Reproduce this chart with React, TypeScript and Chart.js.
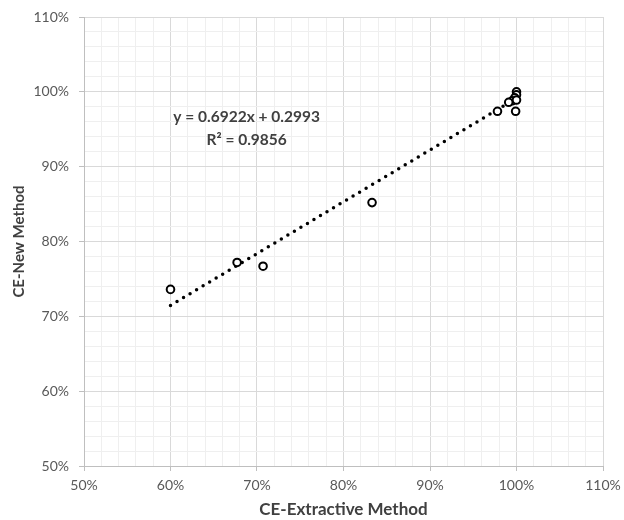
import React, { useEffect, useRef } from "react";
import { Chart, registerables } from "chart.js";

Chart.register(...registerables);

const xValues = [0.60, 0.677, 0.707, 0.833, 0.978, 0.999, 1.0, 1.0, 0.998, 0.995, 0.991, 1.0];
const yValues = [0.736, 0.772, 0.767, 0.852, 0.974, 0.974, 1.0, 0.996, 0.992, 0.988, 0.986, 0.989];
const trendSlope = 0.6922;
const trendIntercept = 0.2993;
const trendRange = [0.6, 1.0];
const equationLines = ["y = 0.6922x + 0.2993", "R² = 0.9856"];
const axisMin = 0.5;
const axisMax = 1.1;

const FONT = "Lato, 'Open Sans', sans-serif";

export default function App() {
  const ref = useRef<HTMLCanvasElement | null>(null);

  useEffect(() => {
    if (!ref.current) return;
    const points = xValues.map((x, i) => ({ x, y: yValues[i] }));
    const trend = trendRange.map((x) => ({ x, y: trendSlope * x + trendIntercept }));

    const isMajor = (v: number) => Math.abs(Math.round(v * 10) - v * 10) < 1e-6;

    const gridColor = (ctx: any) => (isMajor(ctx.tick.value) ? "#d9d9d9" : "#efefef");

    const textPlugin = {
      id: "eqText",
      afterDatasetsDraw(chart: any) {
        const c = chart.ctx;
        const xs = chart.scales.x;
        const ys = chart.scales.y;
        c.save();
        c.fillStyle = "#404040";
        c.font = `bold 15.5px ${FONT}`;
        c.textAlign = "center";
        c.textBaseline = "middle";
        const cx = xs.getPixelForValue(0.688);
        c.fillText(equationLines[0], cx, ys.getPixelForValue(0.9665));
        c.fillText(equationLines[1], cx, ys.getPixelForValue(0.9358));
        c.restore();
      },
    };

    const tickCb = (v: any) => {
      const n = Number(v);
      return isMajor(n) ? Math.round(n * 100) + "%" : "";
    };

    const chart = new Chart(ref.current, {
      type: "scatter",
      data: {
        datasets: [
          {
            type: "line",
            data: trend,
            borderColor: "#000",
            borderWidth: 3.5,
            borderDash: [0, 7.6],
            borderCapStyle: "round",
            pointRadius: 0,
            fill: false,
            order: 2,
          } as any,
          {
            data: points,
            pointStyle: "circle",
            pointRadius: 3.8,
            pointBorderWidth: 2,
            pointBackgroundColor: "#fff",
            pointBorderColor: "#000",
            borderColor: "#000",
            backgroundColor: "#fff",
            order: 1,
          },
        ],
      },
      options: {
        animation: false,
        responsive: false,
        layout: { padding: { top: 17, right: 21, left: 10, bottom: 0 } },
        plugins: { legend: { display: false }, tooltip: { enabled: false } },
        scales: {
          x: {
            type: "linear",
            min: axisMin,
            max: axisMax,
            afterFit: (s: any) => {
              s.height = 54;
              s.paddingLeft = 0;
              s.paddingRight = 0;
            },
            afterBuildTicks: (s: any) => {
              const t = [];
              for (let i = 0; i <= 30; i++) t.push({ value: axisMin + i * 0.02 });
              s.ticks = t;
            },
            ticks: {
              autoSkip: false,
              maxRotation: 0,
              callback: tickCb,
              color: "#595959",
              font: { family: FONT, size: 14 },
              padding: 6,
            },
            grid: {
              color: gridColor,
              tickColor: (ctx: any) => (isMajor(ctx.tick.value) ? "#bfbfbf" : "rgba(0,0,0,0)"),
              tickLength: 5,
              lineWidth: 1,
            },
            border: { color: "#bfbfbf" },
            title: {
              display: true,
              text: "CE-Extractive Method",
              color: "#404040",
              font: { family: FONT, size: 17, weight: "bold" },
              padding: { top: 2, bottom: 0 },
            },
          },
          y: {
            type: "linear",
            min: axisMin,
            max: axisMax,
            afterFit: (s: any) => {
              s.width = 74;
              s.paddingTop = 0;
              s.paddingBottom = 0;
            },
            afterBuildTicks: (s: any) => {
              const t = [];
              for (let i = 0; i <= 30; i++) t.push({ value: axisMin + i * 0.02 });
              s.ticks = t;
            },
            ticks: {
              autoSkip: false,
              callback: tickCb,
              color: "#595959",
              font: { family: FONT, size: 14 },
              padding: 10,
            },
            grid: {
              color: gridColor,
              tickColor: (ctx: any) => (isMajor(ctx.tick.value) ? "#bfbfbf" : "rgba(0,0,0,0)"),
              tickLength: 5,
              lineWidth: 1,
            },
            border: { color: "#bfbfbf" },
            title: {
              display: true,
              text: "CE-New Method",
              color: "#404040",
              font: { family: FONT, size: 15, weight: "bold" },
              padding: { top: 0, bottom: 6 },
            },
          },
        },
      },
      plugins: [textPlugin],
    } as any);

    return () => chart.destroy();
  }, []);

  return (
    <div style={{ position: "absolute", left: 0, top: 0, width: 624, height: 520, background: "#fff" }}>
      <canvas ref={ref} width={624} height={520} style={{ width: 624, height: 520 }} />
    </div>
  );
}
